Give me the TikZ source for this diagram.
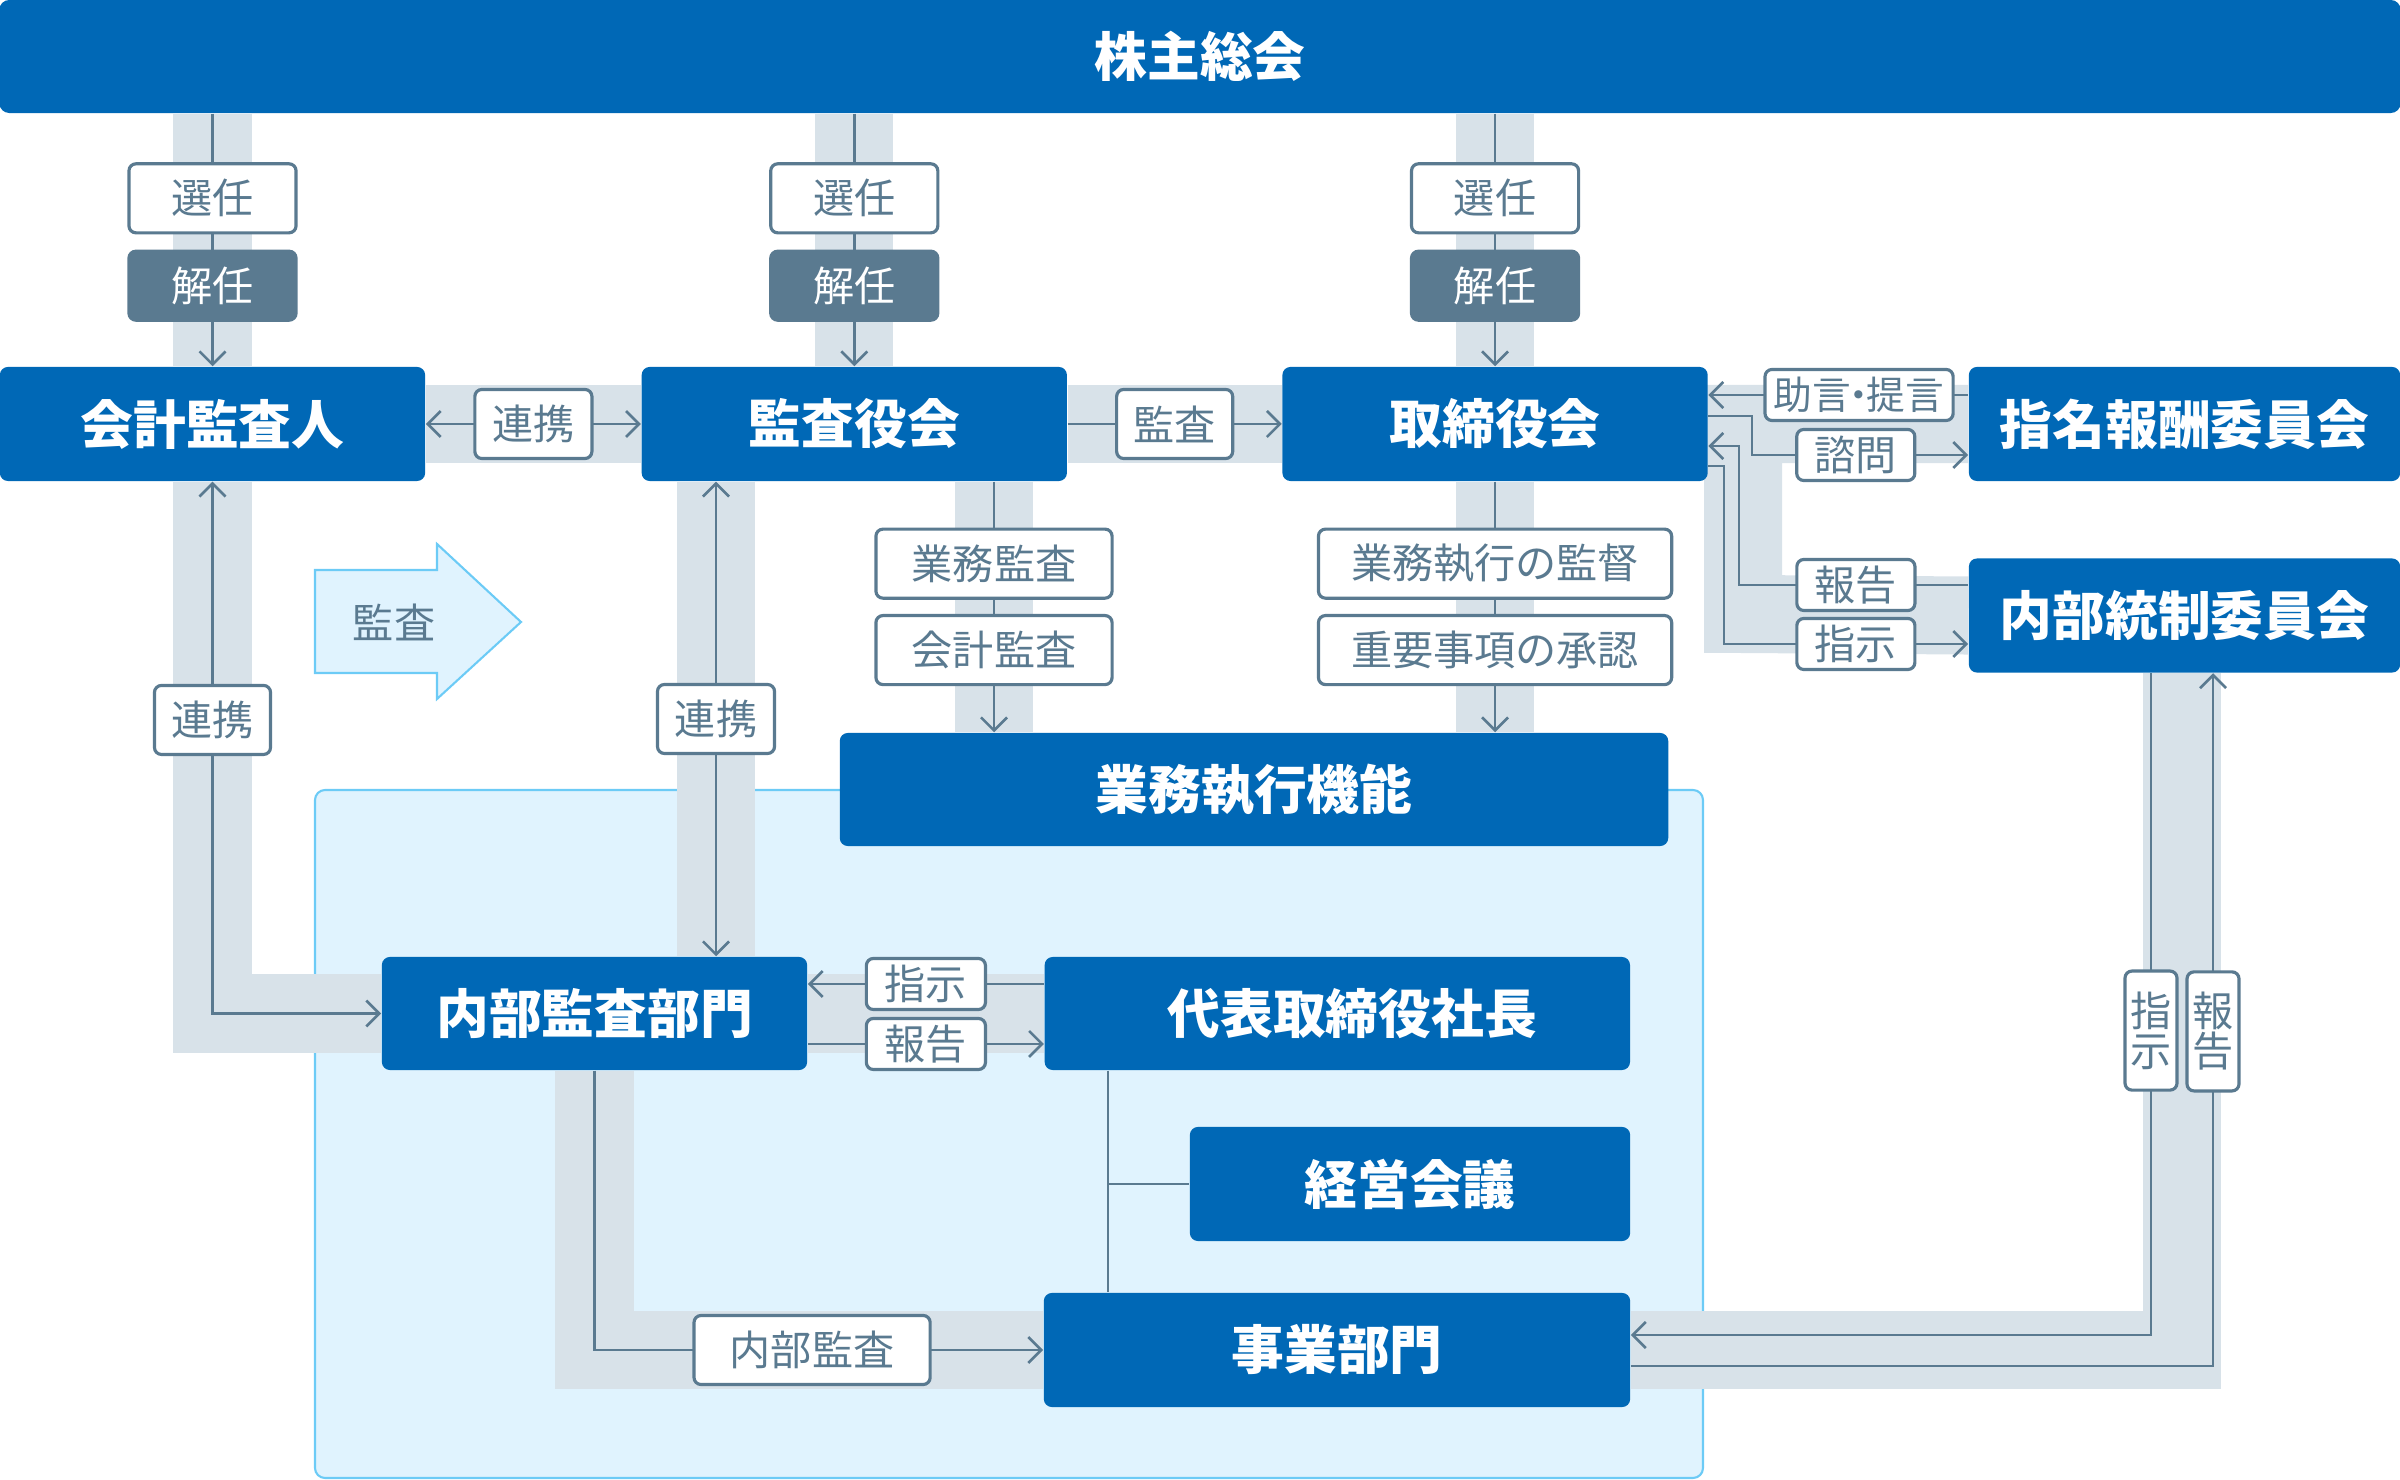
\documentclass[tikz,border=0pt]{standalone}
\usepackage{fontspec}
\usepackage{xcolor}
\usepackage{tikz}
\usetikzlibrary{arrows.meta,positioning}

\newfontfamily\jp{Noto Sans CJK JP}
\definecolor{orgblue}{HTML}{0068B6}
\definecolor{slate}{HTML}{5A7A90}
\definecolor{bandgrey}{HTML}{D8E2E9}
\definecolor{paleblue}{HTML}{E0F3FE}
\definecolor{edgeblue}{HTML}{6CCBF6}

\pgfdeclarelayer{back}
\pgfdeclarelayer{band}
\pgfsetlayers{back,band,main}

\begin{document}
\begin{tikzpicture}[x=0.01cm, y=-0.01cm,
	>={Straight Barb[length=1.3mm,width=2.6mm]},
	org/.style = {rectangle, rounded corners=0.08cm, fill=orgblue, text=white, inner sep=0pt,
		font=\jp\bfseries\fontsize{15}{16}\selectfont, minimum height=1.14cm, minimum width=4.25cm},
	lbl/.style = {rectangle, rounded corners=0.07cm, draw=slate, line width=0.9pt, fill=white,
		text=slate, inner sep=0pt, font=\jp\fontsize{11.7}{11.7}\selectfont, minimum height=0.69cm},
	dark/.style = {fill=slate, text=white},
	small/.style = {minimum height=0.51cm, minimum width=1.18cm},
	lblv/.style = {lbl, align=center, minimum width=0.52cm, minimum height=1.19cm,
		font=\jp\fontsize{11.7}{11.4}\selectfont},
	conn/.style = {draw=slate, line width=0.75pt},
	band/.style = {draw=bandgrey, line width=0.78cm}
	]
	\useasboundingbox (0,0) rectangle (2400,1480);
	
	% main boxes
	\node (agm) [org, minimum width=24cm, minimum height=1.13cm, rounded corners=0.1cm] at (1200,56.5) {株主総会};
	\node (acct) [org] at (212.5,424) {会計監査人};
	\node (kansa) [org, right=2.15cm of acct] {監査役会};
	\node (board) [org, right=2.14cm of kansa] {取締役会};
	\node (nomin) [org, minimum width=4.31cm] at (2184.5,424) {指名報酬委員会};
	\node (icc) [org, minimum width=4.31cm, below=0.76cm of nomin] {内部統制委員会};
	\node (exec) [org, minimum width=8.28cm, minimum height=1.13cm] at (1254,789.5) {業務執行機能};
	\node (iad) [org, minimum height=1.13cm] at (594.5,1013.5) {内部監査部門};
	\node (ceo) [org, minimum width=5.85cm, minimum height=1.13cm, right=2.36cm of iad] {\hspace{0.3cm}代表取締役社長};
	\node (mgmt) [org, minimum width=4.4cm] at (1410,1184) {経営会議};
	\node (biz) [org, minimum width=5.86cm] at (1337,1350) {事業部門};
	
	\coordinate (kcol) at (994,0);
	\coordinate (lcol) at (716,0);
	\coordinate (trunk) at (1108,1184);
	\coordinate (rcol) at (2182,0);
	
	% region and audit arrow
	\begin{pgfonlayer}{back}
	\draw[edgeblue, fill=paleblue, line width=0.6pt, rounded corners=0.1cm] (315,790) rectangle (1703,1478);
	\end{pgfonlayer}
	\draw[edgeblue, fill=paleblue, line width=0.6pt] (315,570) -- (437,570) -- (437,544) -- (521,622)
		-- (437,699) -- (437,673) -- (315,673) -- cycle;
	\node (audit) [text=slate, font=\jp\fontsize{11.7}{11.7}\selectfont] at (394,622) {監査};
	
	% grey bands
	\begin{pgfonlayer}{band}
	\draw[band] (agm.south -| acct.north) -- (acct.north);
	\draw[band] (agm.south -| kansa.north) -- (kansa.north);
	\draw[band] (agm.south -| board.north) -- (board.north);
	\draw[band] (acct.east) -- (kansa.west);
	\draw[band] (kansa.east) -- (board.west);
	\draw[band] (kansa.south -| kcol) -- (exec.north -| kcol);
	\draw[band] (board.south) -- (exec.north -| board.south);
	\draw[band] (acct.south) -- (acct.south |- iad.west) -- (iad.west);
	\draw[band] (kansa.south -| lcol) -- (iad.north -| lcol);
	\draw[band] (iad.east) -- (ceo.west);
	\draw[band] (iad.south) -- (iad.south |- biz.west) -- (biz.west);
	\draw[band] (icc.south -| rcol) -- (rcol |- biz.east) -- (biz.east);
	\draw[band] (nomin.west) -- (1743,424) -- (1743,614) -- (icc.west);
	\end{pgfonlayer}
	
	% connectors
	\path[->, every edge/.style=conn]
	(agm.south -| acct.north)  edge  node[lbl, minimum width=1.67cm, pos=0.335] {選任}
		node[lbl, dark, minimum width=1.67cm, pos=0.681] {解任}  (acct.north)
	(agm.south -| kansa.north) edge  node[lbl, minimum width=1.67cm, pos=0.335] {選任}
		node[lbl, dark, minimum width=1.67cm, pos=0.681] {解任}  (kansa.north)
	(agm.south -| board.north) edge  node[lbl, minimum width=1.67cm, pos=0.335] {選任}
		node[lbl, dark, minimum width=1.67cm, pos=0.681] {解任}  (board.north)
	
	(acct)   edge [<->]  node[lbl, minimum width=1.17cm] {連携}   (kansa)
	(kansa)  edge  node[lbl, minimum width=1.16cm] {監査}   (board)
	
	(kansa.south -| kcol)  edge  node[lbl, minimum width=2.36cm, pos=0.327] {業務監査}
		node[lbl, minimum width=2.36cm, pos=0.672] {会計監査}   (exec.north -| kcol)
	(board.south)  edge  node[lbl, minimum width=3.53cm, pos=0.327] {業務執行の監督}
		node[lbl, minimum width=3.53cm, pos=0.672] {重要事項の承認}   (exec.north -| board.south)
	
	(kansa.south -| lcol)  edge [<->]  node[lbl, minimum width=1.17cm] {連携}   (iad.north -| lcol)
	
	(ceo.west |- 0,984)   edge  node[lbl, small, minimum width=1.19cm] {指示}   (iad.east |- 0,984)
	(iad.east |- 0,1044)  edge  node[lbl, small, minimum width=1.19cm] {報告}   (ceo.west |- 0,1044);
	
	\draw[conn,<->] (acct.south) -- node[lbl, minimum width=1.16cm, pos=0.448] {連携} (acct.south |- iad.west) -- (iad.west);
	\draw[conn,->] (iad.south) -- (iad.south |- biz.west) -- node[lbl, minimum width=2.36cm, pos=0.485] {内部監査} (biz.west);
	
	\draw[conn] (ceo.south -| trunk) -- (biz.north -| trunk);
	\draw[conn] (trunk) -- (mgmt.west);
	
	% committees
	\draw[conn,->] (nomin.west |- 0,395) -- node[lbl, small, minimum width=1.88cm, pos=0.42,
		font=\jp\fontsize{11}{11}\selectfont] {助言\kern-.3em・\kern-.3em提言} (board.east |- 0,395);
	\draw[conn,->] (board.east |- 0,416) -- (1752,416) -- (1752,455) -- node[lbl, small, pos=0.48] {諮問} (nomin.west |- 0,455);
	\draw[conn,->] (icc.west |- 0,585) -- node[lbl, small, pos=0.49] {報告} (1739,585) -- (1739,446) -- (board.east |- 0,446);
	\draw[conn,->] (board.east |- 0,466) -- (1724,466) -- (1724,644) -- node[lbl, small, pos=0.54] {指示} (icc.west |- 0,644);
	
	\draw[conn,->] (icc.south -| 2151,0) -- node[lblv, pos=0.54] {指\\示} (2151,1335) -- (biz.east |- 0,1335);
	\draw[conn,->] (biz.east |- 0,1366) -- (2213,1366) -- node[lblv, pos=0.483] {報\\告} (icc.south -| 2213,0);
\end{tikzpicture}
\end{document}
